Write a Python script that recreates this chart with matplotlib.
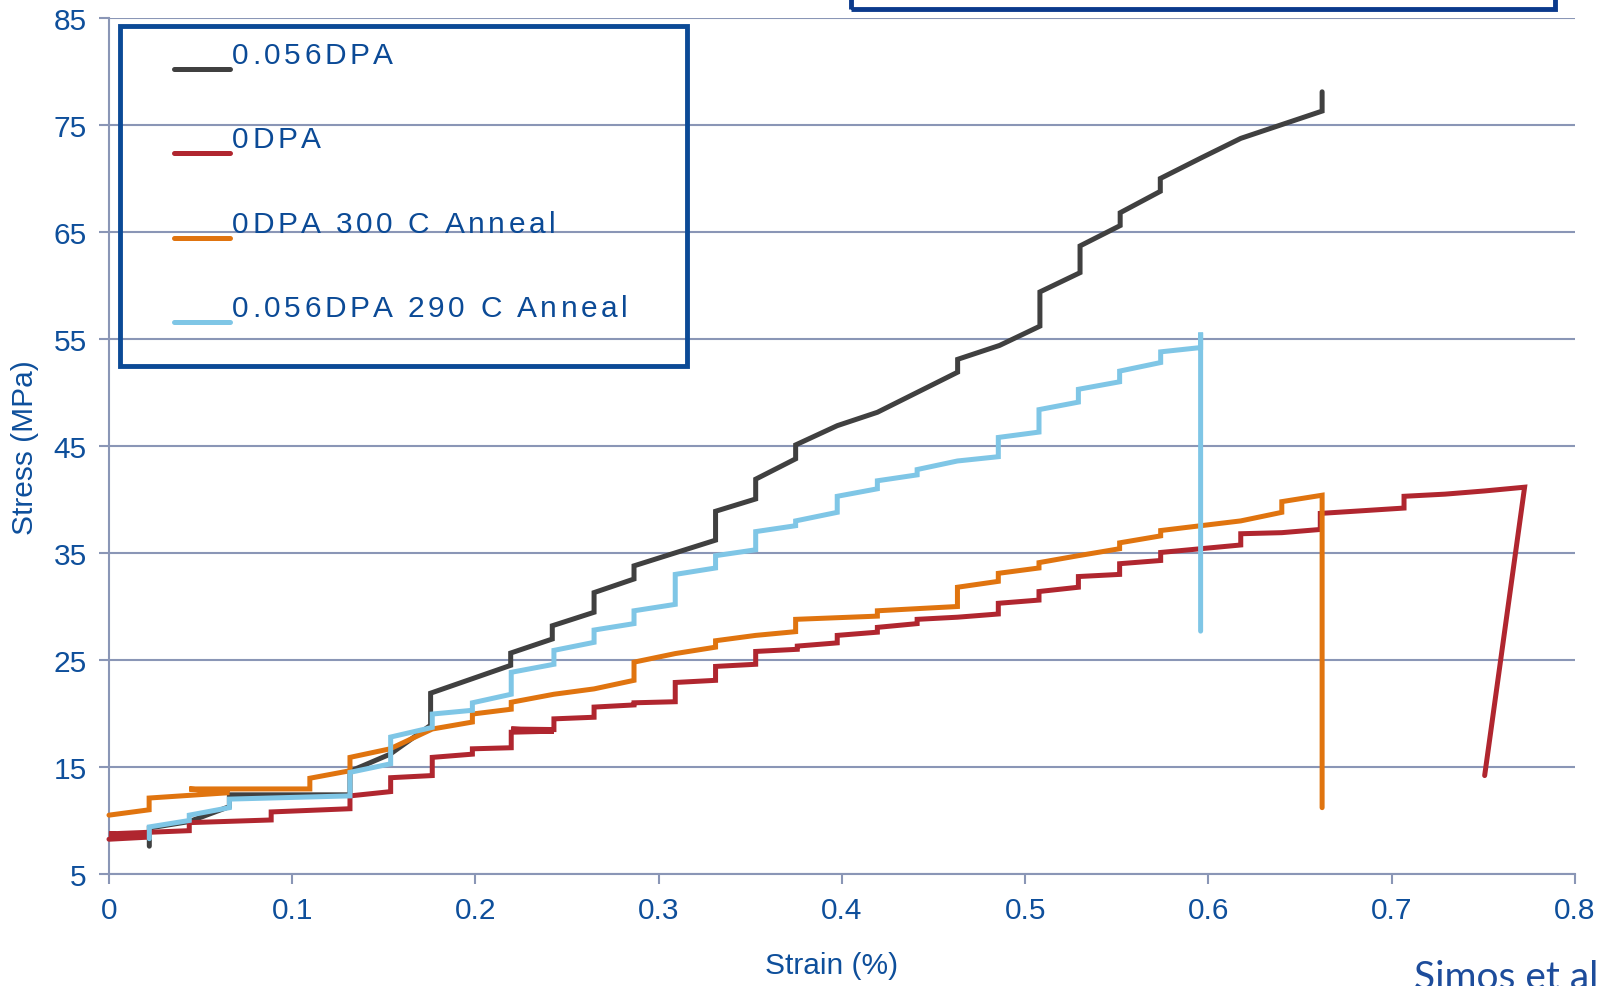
import numpy as np
import matplotlib
matplotlib.use("Agg")
import matplotlib.pyplot as plt
from matplotlib.patches import Rectangle
from matplotlib.lines import Line2D
from matplotlib import font_manager
from matplotlib.ft2font import FT2Font

# --- data ---
labels = ["0.056DPA", "0DPA", "0DPA 300 C Anneal", "0.056DPA 290 C Anneal"]
colors = ["#404040", "#B0262F", "#E0740F", "#7FC6E6"]

x_056 = [0.022, 0.022, 0.0438, 0.0657, 0.0657, 0.1315, 0.1315, 0.1534, 0.1755, 0.1755,
         0.2192, 0.2192, 0.2419, 0.2419, 0.2647, 0.2647, 0.2865, 0.2865, 0.331, 0.331,
         0.3529, 0.3529, 0.3747, 0.3747, 0.3974, 0.4193, 0.4631, 0.4631, 0.486, 0.508,
         0.508, 0.5299, 0.5299, 0.5518, 0.5518, 0.5737, 0.5737, 0.5957, 0.6176, 0.662, 0.662]
y_056 = [7.6, 9.3, 9.9, 11.3, 12.4, 12.4, 14.6, 16.2, 18.9, 21.9,
         24.5, 25.65, 26.96, 28.2, 29.46, 31.3, 32.57, 33.8, 36.2, 38.9,
         40.05, 41.9, 43.8, 45.1, 46.9, 48.15, 51.9, 53.1, 54.4, 56.2,
         59.4, 61.2, 63.7, 65.6, 66.8, 68.8, 70.0, 71.9, 73.75, 76.3, 78.1]

x_0 = [0, 0.022, 0, 0.022, 0.0438, 0.0438, 0.0885, 0.0885, 0.1315, 0.1315,
       0.1537, 0.1537, 0.1764, 0.1764, 0.1983, 0.1983, 0.2195, 0.2195, 0.2428, 0.2195,
       0.2428, 0.2428, 0.2647, 0.2647, 0.2865, 0.2865, 0.309, 0.309, 0.331, 0.331,
       0.3529, 0.3529, 0.3756, 0.3756, 0.3974, 0.3974, 0.4193, 0.4193, 0.441, 0.441,
       0.463, 0.4853, 0.4853, 0.5075, 0.5075, 0.529, 0.529, 0.5515, 0.5515, 0.5739,
       0.5739, 0.6176, 0.6176, 0.640, 0.661, 0.661, 0.684, 0.7067, 0.7067, 0.729,
       0.7507, 0.7725, 0.7507]
y_0 = [8.25, 8.45, 8.75, 8.9, 9.05, 9.8, 10.05, 10.8, 11.1, 12.3,
       12.7, 14.0, 14.2, 15.9, 16.2, 16.7, 16.8, 18.25, 18.35, 18.55,
       18.5, 19.5, 19.65, 20.6, 20.8, 21.0, 21.1, 22.9, 23.1, 24.4,
       24.6, 25.8, 26.0, 26.3, 26.6, 27.3, 27.6, 28.05, 28.4, 28.8,
       29.0, 29.3, 30.3, 30.6, 31.4, 31.8, 32.8, 33.0, 34.0, 34.3,
       35.05, 35.75, 36.8, 36.9, 37.2, 38.7, 38.95, 39.2, 40.3, 40.5,
       40.8, 41.15, 14.2]

x_0a = [0, 0.0219, 0.0219, 0.0657, 0.0438, 0.1096, 0.1096, 0.1315, 0.1315, 0.1534,
        0.1764, 0.1983, 0.1983, 0.2195, 0.2195, 0.2428, 0.2647, 0.2865, 0.2865, 0.309,
        0.331, 0.331, 0.3529, 0.3747, 0.3747, 0.4193, 0.4193, 0.463, 0.463, 0.4853,
        0.4853, 0.5075, 0.5075, 0.529, 0.5515, 0.5515, 0.5739, 0.5739, 0.6176, 0.640,
        0.640, 0.662, 0.662]
y_0a = [10.5, 11.0, 12.1, 12.6, 12.95, 12.95, 13.95, 14.65, 15.9, 16.7,
        18.55, 19.2, 19.95, 20.4, 21.05, 21.8, 22.3, 23.1, 24.8, 25.6,
        26.2, 26.8, 27.3, 27.65, 28.8, 29.1, 29.6, 30.0, 31.8, 32.35,
        33.1, 33.6, 34.1, 34.75, 35.4, 35.95, 36.6, 37.1, 38.0, 38.8,
        39.8, 40.4, 11.2]

x_056a = [0.022, 0.022, 0.0438, 0.0438, 0.0657, 0.0657, 0.1315, 0.1315, 0.1537, 0.1537,
          0.1764, 0.1764, 0.1983, 0.1983, 0.2195, 0.2195, 0.2428, 0.2428, 0.2647, 0.2647,
          0.2865, 0.2865, 0.309, 0.309, 0.331, 0.331, 0.3529, 0.3529, 0.3747, 0.3747,
          0.3974, 0.3974, 0.4193, 0.4193, 0.441, 0.441, 0.463, 0.4853, 0.4853, 0.5075,
          0.5075, 0.529, 0.529, 0.5515, 0.5515, 0.5739, 0.5739, 0.5957, 0.5957, 0.5957]
y_056a = [8.3, 9.4, 10.0, 10.5, 11.2, 12.0, 12.3, 14.5, 15.3, 17.8,
          18.7, 19.95, 20.3, 21.0, 21.8, 23.85, 24.6, 25.9, 26.65, 27.8,
          28.4, 29.6, 30.2, 33.0, 33.6, 34.75, 35.3, 37.0, 37.55, 38.0,
          38.8, 40.3, 41.0, 41.75, 42.3, 42.8, 43.6, 44.0, 45.8, 46.3,
          48.4, 49.1, 50.3, 51.0, 52.0, 52.8, 53.8, 54.2, 55.6, 27.7]

series = [(x_056, y_056), (x_0, y_0), (x_0a, y_0a), (x_056a, y_056a)]

xticks = [0, 0.1, 0.2, 0.3, 0.4, 0.5, 0.6, 0.7, 0.8]
xticklabels = ["0", "0.1", "0.2", "0.3", "0.4", "0.5", "0.6", "0.7", "0.8"]
yticks = [5, 15, 25, 35, 45, 55, 65, 75, 85]

grid_c = "#8A96B6"
text_c = "#0E4F9B"
box_c = "#0B4A96"
font = "Liberation Sans"
fs = 21.5

W, H = 1606, 987
fig = plt.figure(figsize=(W / 100, H / 100), dpi=100)
ax = fig.add_axes([109 / W, 1 - 875 / H, (1575 - 109) / W, (875 - 19) / H])

for (xs, ys), c in zip(series, colors):
    ax.plot(xs, ys, color=c, lw=3.6, solid_capstyle="round",
            solid_joinstyle="miter", clip_on=False, zorder=3)

ax.set_xlim(0, 0.8)
ax.set_ylim(5, 85)
ax.set_xticks(xticks)
ax.set_xticklabels(xticklabels)
ax.set_yticks(yticks)
ax.grid(axis="y", color=grid_c, lw=1.5)
ax.set_axisbelow(True)
for s in ["top", "right"]:
    ax.spines[s].set_visible(False)
for s in ["left", "bottom"]:
    ax.spines[s].set_color(grid_c)
    ax.spines[s].set_linewidth(1.5)
ax.tick_params(direction="out", length=7, width=1.5, color=grid_c,
               labelcolor=text_c, labelsize=fs, pad=9)
for t in ax.get_xticklabels() + ax.get_yticklabels():
    t.set_fontfamily(font)

fig.text(832 / W, 1 - 966 / H, "Strain (%)", ha="center", va="center",
         fontsize=fs, color=text_c, family=font)
fig.text(25 / W, 1 - 448 / H, "Stress (MPa)", ha="center", va="center",
         rotation=90, fontsize=fs, color=text_c, family=font)
fig.text(1598 / W, 1 - 989 / H, "Simos et al", ha="right", va="baseline",
         fontsize=28, color="#1D4C9B", family="Lato")

# box at the top right (cut off by the figure edge)
fig.add_artist(Rectangle((851 / W, 1 - 10 / H), (1555 - 851) / W, 60 / H,
                         transform=fig.transFigure, fill=False,
                         ec="#0B3A8C", lw=3.5))

# legend, drawn by hand (letter-spaced text above short lines)
fig.add_artist(Rectangle((120 / W, 1 - 367 / H), (687 - 120) / W, (367 - 27) / H,
                         transform=fig.transFigure, fill=False, ec=box_c, lw=3.5))

ft = FT2Font(font_manager.findfont(font_manager.FontProperties(family=font)))
ft.set_size(fs, 100)
spacing = 3.5
for i, (lab, c) in enumerate(zip(labels, colors)):
    ly = 69.5 + 84.6 * i
    fig.add_artist(Line2D([174 / W, 230 / W], [1 - ly / H] * 2, color=c, lw=3.6,
                          solid_capstyle="round", transform=fig.transFigure))
    x = 232.0
    for ch in lab:
        fig.text(x / W, 1 - (ly - 6) / H, ch, ha="left", va="baseline",
                 fontsize=fs, color=box_c, family=font)
        x += ft.load_char(ord(ch)).linearHoriAdvance / 65536 + spacing

fig.savefig("out.png", dpi=100)
